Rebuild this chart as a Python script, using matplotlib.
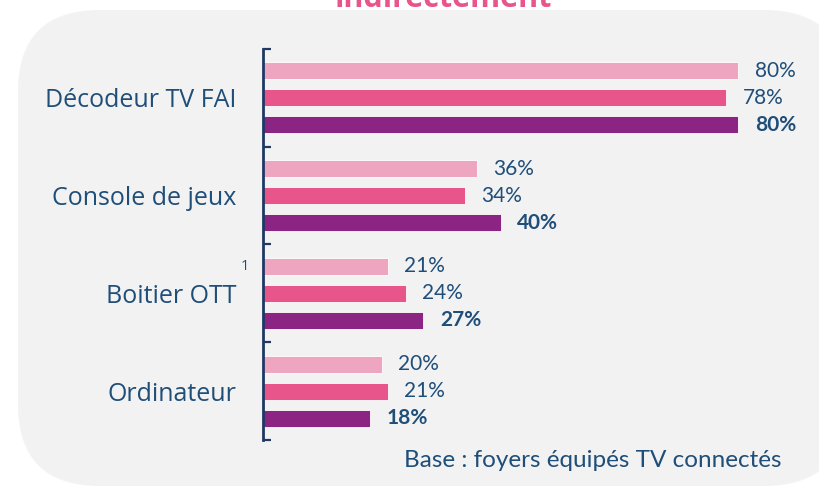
import matplotlib
matplotlib.use("Agg")
import matplotlib.pyplot as plt
from matplotlib.patches import FancyBboxPatch
import numpy as np

categories = ["Décodeur TV FAI", "Console de jeux", "Boitier OTT", "Ordinateur"]
series_a = [80, 36, 21, 20]
series_b = [78, 34, 24, 21]
series_c = [80, 40, 27, 18]
title = "indirectement"
footnote = "Base : foyers équipés TV connectés"

W, H = 820, 486
DPI = 100
fig = plt.figure(figsize=(W / DPI, H / DPI), dpi=DPI)
fig.patch.set_facecolor("white")

# background panel in pixel coordinates
bg = fig.add_axes([0, 0, 1, 1])
bg.set_xlim(0, W)
bg.set_ylim(H, 0)
bg.axis("off")
R = 82
bx0, by0, bx1, by1 = 18, 10, 846, 486
panel = FancyBboxPatch((bx0 + R, by0 + R), bx1 - bx0 - 2 * R, by1 - by0 - 2 * R,
                       boxstyle=f"round,pad={R}", fc="#F2F2F2", ec="none")
bg.add_patch(panel)

navy = "#1F4E79"
spine_col = "#1F3864"
cols = ["#EEA6C0", "#E8558A", "#8C2483"]

# main axes: x from 263 px (0%) at 5.94 px per %
x0, xmax = 263, 90
x1 = x0 + 5.94 * xmax
y_top, y_bot = 49, 440
ax = fig.add_axes([x0 / W, 1 - y_bot / H, (x1 - x0) / W, (y_bot - y_top) / H])
ax.set_facecolor("none")
ax.set_xlim(0, xmax)
ax.set_ylim(len(categories) - 0.5, -0.5)

y = np.arange(len(categories))
off = 27 / 97.8
bh = 17 / 97.8
for k, (vals, c) in enumerate(zip([series_a, series_b, series_c], cols)):
    pos = y + (k - 1) * off
    ax.barh(pos, vals, height=bh, color=c, edgecolor="white", linewidth=0.6)
    for p, v in zip(pos, vals):
        ax.annotate(f"{v}%", (v, p), xytext=(12, 0), textcoords="offset points",
                    va="center", ha="left", fontsize=15, color=navy,
                    fontfamily="Lato", fontweight="bold" if k == 2 else "normal")

for s in ["top", "right", "bottom"]:
    ax.spines[s].set_visible(False)
ax.spines["left"].set_color(spine_col)
ax.spines["left"].set_linewidth(2)
ax.set_xticks([])
ax.set_yticks(y)
ax.set_yticklabels(categories, fontsize=18, color=navy, fontfamily="Open Sans")
ax.tick_params(axis="y", which="major", length=0, pad=19)
ax.set_yticks(np.arange(len(categories) + 1) - 0.5, minor=True)
ax.tick_params(axis="y", which="minor", direction="in", length=6, width=1.6, color=spine_col)

# superscript
bg.text(245, 266, "1", fontsize=10.5, color=navy, ha="center", va="center", fontfamily="Open Sans")

# footnote
bg.text(782, 460, footnote, fontsize=17.5, color=navy, ha="right", va="center", fontfamily="Lato")

# title (cut at top, as in the original)
bg.text(443, 7, title, fontsize=22, color="#E8558A", ha="center", va="baseline",
        fontweight="bold", fontfamily="Open Sans")

fig.savefig("out.png", dpi=DPI)
